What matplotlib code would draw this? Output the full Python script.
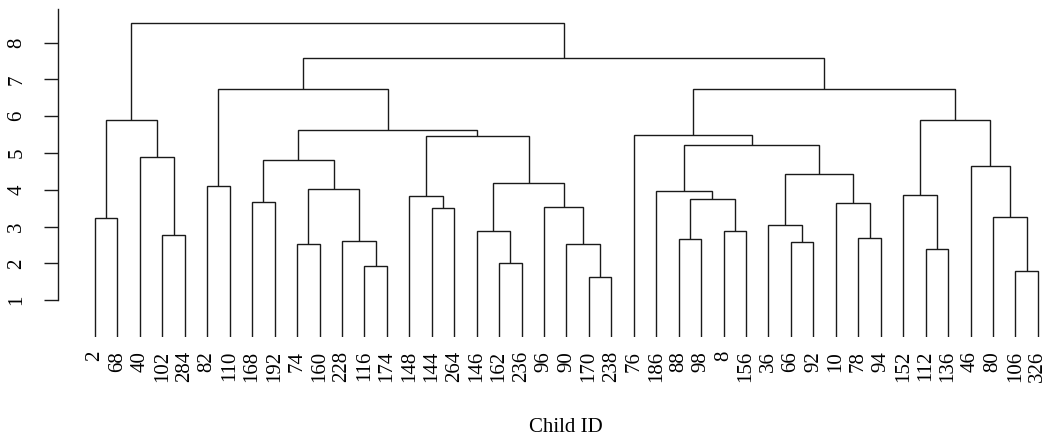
import matplotlib.pyplot as plt

plt.rcParams['font.family'] = ['Liberation Serif', 'DejaVu Serif']

# leaf order as drawn (child IDs)
leaf_ids = [2, 68, 40, 102, 284, 82, 110, 168, 192, 74, 160, 228, 116, 174,
            148, 144, 264, 146, 162, 236, 96, 90, 170, 238, 76, 186, 88, 98,
            8, 156, 36, 66, 92, 10, 78, 94, 152, 112, 136, 46, 80, 106, 326]

# hclust-style merges: negative = child ID, positive = earlier merge row (1-based)
merge_left = [-2, -102, -40, 1, -82, -168, -74, -116, -228, 7, 6, -144, -148,
              -162, -146, -170, -90, -96, 15, 13, 11, 5, -88, -8, 23, -186,
              -66, -36, -78, -10, 28, 26, -76, -112, -152, -106, -80, -46, 35,
              33, 22, 4]
merge_right = [-68, -284, 2, 3, -110, -192, -160, -174, 8, 9, 10, -264, 12,
               -236, 14, -238, 16, 17, 18, 19, 20, 21, -98, -156, 24, 25,
               -92, 27, -94, 29, 30, 31, 32, -136, 34, -326, 36, 37, 38,
               39, 40, 41]
merge_height = [3.24, 2.77, 4.89, 5.91, 4.09, 3.66, 2.53, 1.94, 2.61, 4.02,
                4.80, 3.50, 3.82, 2.01, 2.88, 1.63, 2.53, 3.54, 4.18, 5.46,
                5.62, 6.75, 2.65, 2.88, 3.74, 3.97, 2.57, 3.04, 2.68, 3.63,
                4.42, 5.23, 5.50, 2.38, 3.86, 1.78, 3.26, 4.65, 5.90, 6.75,
                7.58, 8.52]

leaf_pos = {cid: i + 1 for i, cid in enumerate(leaf_ids)}

fig = plt.figure(figsize=(10.5, 4.41), dpi=100)
ax = fig.add_axes([58.3 / 1050, 104 / 441, (1045 - 58.3) / 1050, 329 / 441])

node_x = []
node_y = []
for a, b, h in zip(merge_left, merge_right, merge_height):
    pts = []
    for c in (a, b):
        if c < 0:
            pts.append((leaf_pos[-c], 0.0))
        else:
            pts.append((node_x[c - 1], node_y[c - 1]))
    (xl, yl), (xr, yr) = pts
    ax.plot([xl, xl, xr, xr], [yl, h, h, yr], color='#1a1a1a', lw=1.0,
            solid_capstyle='butt', solid_joinstyle='miter')
    node_x.append((xl + xr) / 2)
    node_y.append(h)

ax.set_xlim(1 + (58.3 - 95) / 22.45, 1 + (1045 - 95) / 22.45)
ax.set_ylim(0, 8.94)

ax.set_xticks(range(1, len(leaf_ids) + 1))
ax.set_xticklabels([str(c) for c in leaf_ids], rotation=90, fontsize=15)
ax.tick_params(axis='x', length=0, pad=10)

ax.set_yticks(range(1, 9))
ax.set_yticklabels([str(v) for v in range(1, 9)], rotation=90, fontsize=15,
                   va='center')
ax.tick_params(axis='y', length=10, width=1.0, pad=13, color='#1a1a1a')

for s in ['top', 'right', 'bottom']:
    ax.spines[s].set_visible(False)
ax.spines['left'].set_bounds(1, 8.92)
ax.spines['left'].set_linewidth(1.0)
ax.spines['left'].set_color('#1a1a1a')

fig.text(566 / 1050, 1 - 427 / 441, 'Child ID', ha='center', va='center',
         fontsize=15)

fig.savefig('out.png', dpi=100)
